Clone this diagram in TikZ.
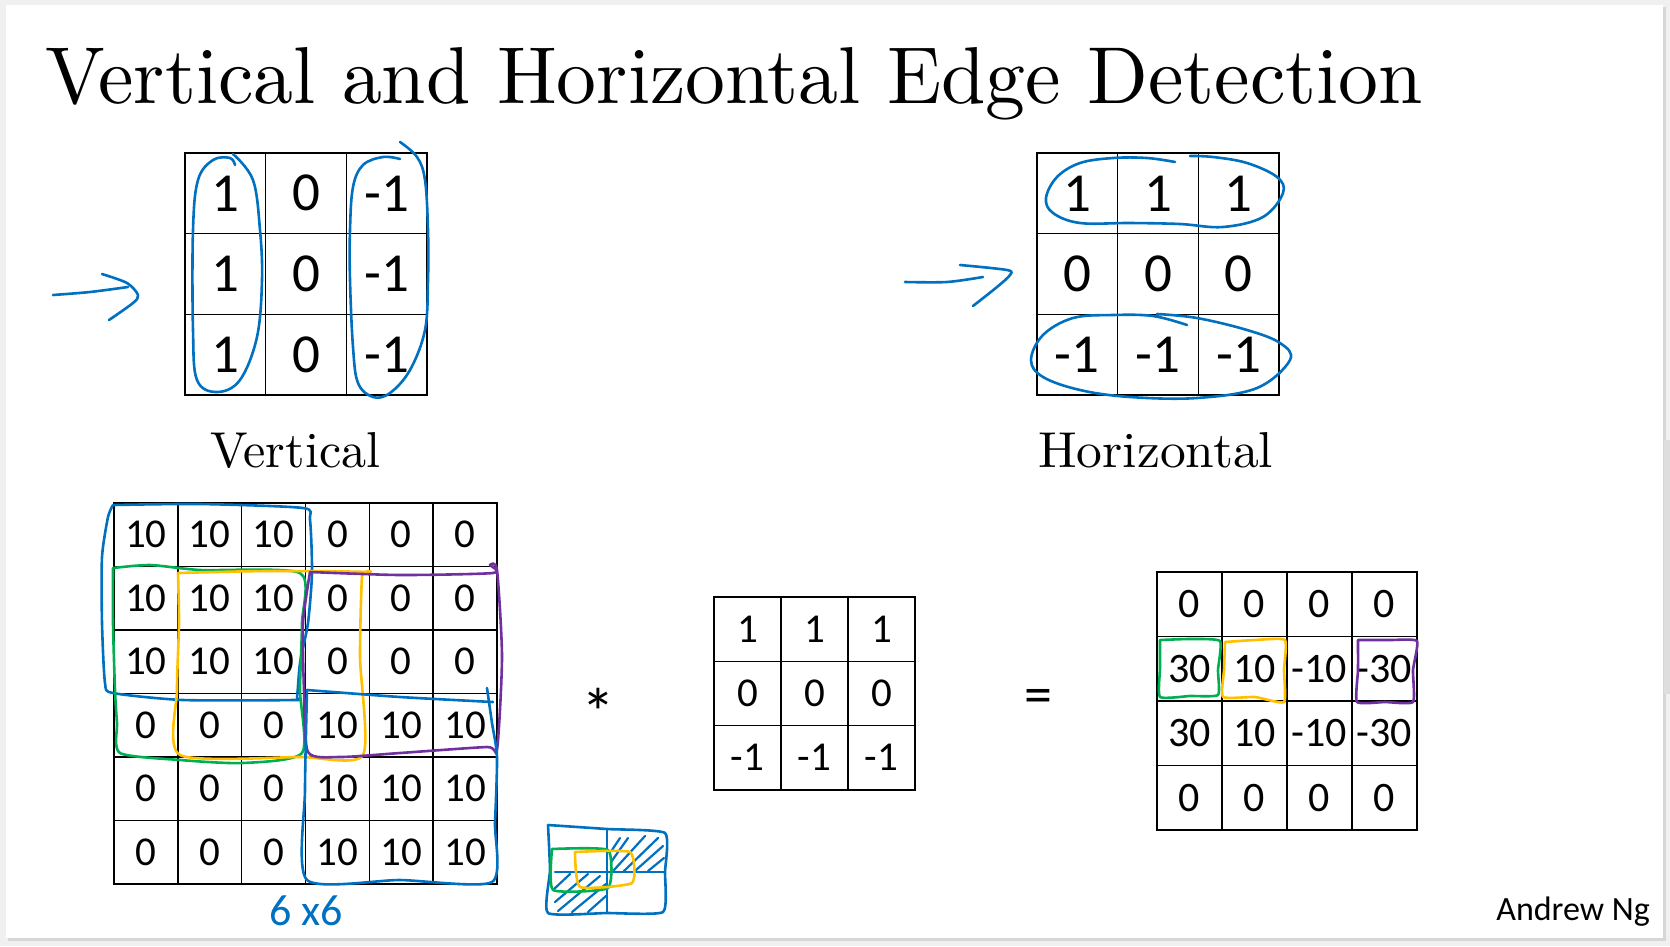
\documentclass[tikz,border=0pt]{standalone}
\usepackage{fontspec}
\newfontfamily\calib{Carlito}
\definecolor{inkblue}{HTML}{0070C0}
\definecolor{inkgreen}{HTML}{00B050}
\definecolor{inkyellow}{HTML}{FFC000}
\definecolor{inkpurple}{HTML}{7030A0}
\begin{document}
\begin{tikzpicture}[x=1pt,y=-1pt,
  cellbox/.style={draw=black, line width=1.6pt, inner sep=0pt, outer sep=0pt},
  bigcell/.style={cellbox, minimum width=80.67pt, minimum height=80.67pt, font=\calib\fontsize{55}{55}\selectfont},
  incell/.style={cellbox, minimum width=63.83pt, minimum height=63.5pt, font=\calib\fontsize{41}{41}\selectfont},
  kcell/.style={cellbox, minimum width=67pt, minimum height=64.3pt, font=\calib\fontsize{41}{41}\selectfont},
  ocell/.style={cellbox, minimum width=65pt, minimum height=64.5pt, font=\calib\fontsize{42}{42}\selectfont},
  hand/.style={line width=2.6pt, line cap=round, line join=round},
  hatch/.style={inkblue, line width=2.2pt, line cap=round},
  label/.style={inner sep=0pt},
]
% slide background
\fill[black!6] (0,0) rectangle (1670,946);
\fill[black!16] (8,7) rectangle (1666,941);
\fill[white] (6,5) rectangle (1663,938);
\fill[black!13] (1664,440) rectangle (1670,694);
\useasboundingbox (0,0) rectangle (1670,946);

% title
\node[anchor=base west, inner sep=0pt] (title) at (45,103)
  {\resizebox{1377pt}{56pt}{Vertical and Horizontal Edge Detection}};

% vertical filter
\foreach \row [count=\r] in {{1,0,-1},{1,0,-1},{1,0,-1}} {
  \foreach \v [count=\c] in \row {
    \node[bigcell] (v\r\c) at ({185+80.67*(\c-0.5)},{153+80.67*(\r-0.5)}) {\v};
  }
}
% horizontal filter
\foreach \row [count=\r] in {{1,1,1},{0,0,0},{-1,-1,-1}} {
  \foreach \v [count=\c] in \row {
    \node[bigcell] (h\r\c) at ({1037+80.67*(\c-0.5)},{153+80.67*(\r-0.5)}) {\v};
  }
}
\node[label, anchor=base west] (vlab) at (210,467) {\resizebox{170pt}{35pt}{Vertical}};
\node[label, anchor=base west] (hlab) at (1038,467) {\resizebox{235pt}{35pt}{Horizontal}};

% 6x6 input
\foreach \row [count=\r] in {{10,10,10,0,0,0},{10,10,10,0,0,0},{10,10,10,0,0,0},{0,0,0,10,10,10},{0,0,0,10,10,10},{0,0,0,10,10,10}} {
  \foreach \v [count=\c] in \row {
    \node[incell] (a\r\c) at ({114+63.83*(\c-0.5)},{503+63.5*(\r-0.5)}) {\v};
  }
}
% kernel
\foreach \row [count=\r] in {{1,1,1},{0,0,0},{-1,-1,-1}} {
  \foreach \v [count=\c] in \row {
    \node[kcell] (k\r\c) at ({714+67*(\c-0.5)},{597+64.3*(\r-0.5)}) {\v};
  }
}
% output
\foreach \row [count=\r] in {{0,0,0,0},{30,10,-10,-30},{30,10,-10,-30},{0,0,0,0}} {
  \foreach \v [count=\c] in \row {
    \node[ocell] (o\r\c) at ({1157+65*(\c-0.5)},{572+64.5*(\r-0.5)}) {\v};
  }
}
\node[inner sep=0pt, font=\calib\fontsize{68}{68}\selectfont] (star) at (598,712) {*};
\node[inner sep=0pt, font=\calib\fontsize{56}{56}\selectfont] (eq) at (1038,701) {=};
\node[anchor=base east, inner sep=0pt, font=\calib\fontsize{34}{34}\selectfont] (author) at (1650,920) {Andrew Ng};
\node[inner sep=0pt, text=inkblue, font=\calib\fontsize{44}{44}\selectfont] (size) at (306,911) {6 x6};

% ---- handwriting: vertical filter loops
\draw[hand, inkblue] plot[smooth, tension=0.6] coordinates {(233,154) (253,180) (260,230) (262,280) (257,337) (240,380) (217,392) (197,380) (193,330) (193,230) (198,180) (213,160) (230,158) (235,165)};
\draw[hand, inkblue] plot[smooth, tension=0.6] coordinates {(400,142) (417,157) (425,180) (428,230) (428,280) (425,330) (410,370) (390,393) (373,397) (358,383) (353,347) (350,280) (350,230) (353,187) (363,165) (383,157) (400,159)};
% arrows
\draw[hand, inkblue] plot[smooth, tension=0.5] coordinates {(53,295) (90,292) (128,287)};
\draw[hand, inkblue] plot[smooth, tension=0.5] coordinates {(102,274) (127,283) (138,295) (133,303) (109,320)};
\draw[hand, inkblue] plot[smooth, tension=0.5] coordinates {(905,282) (947,282) (983,277)};
\draw[hand, inkblue] plot[smooth, tension=0.5] coordinates {(960,265) (1007,270) (1010,275) (997,287) (973,306)};
% horizontal filter loops
\draw[hand, inkblue] plot[smooth, tension=0.6] coordinates {(1175,162) (1147,158) (1113,158) (1080,163) (1057,177) (1046,198) (1053,213) (1080,223) (1130,223) (1180,224) (1223,227) (1263,217) (1283,193) (1277,177) (1247,163) (1213,157) (1190,156)};
\draw[hand, inkblue] plot[smooth, tension=0.6] coordinates {(1187,325) (1153,316) (1113,315) (1073,318) (1043,335) (1031,360) (1043,377) (1080,390) (1130,397) (1197,398) (1257,388) (1290,360) (1280,343) (1247,330) (1197,318) (1157,314)};

% ---- 6x6 coloured boxes
\draw[hand, inkblue] plot[smooth, tension=0.4] coordinates {(113,505) (200,504) (303,508) (310,520) (312,573) (308,623) (300,663) (297,697) (293,700) (183,700) (113,693) (105,683) (102,623) (102,557) (108,517) (113,505)};
\draw[hand, inkgreen] plot[smooth, tension=0.4] coordinates {(113,568) (150,565) (200,570) (300,573) (302,623) (300,690) (302,753) (243,763) (180,760) (120,753) (117,723) (115,690) (113,623) (113,568)};
\draw[hand, inkyellow] plot[smooth, tension=0.4] coordinates {(178,573) (267,571) (367,572) (362,577) (360,657) (363,755) (300,757) (180,755) (177,690) (179,623) (178,573)};
\draw[hand, inkpurple] plot[smooth, tension=0.4] coordinates {(310,572) (400,575) (493,573) (490,565) (497,570) (502,657) (497,750) (487,747) (400,753) (340,757) (308,752) (304,690) (303,623) (310,572)};
\draw[hand, inkblue] plot[smooth, tension=0.4] coordinates {(307,690) (400,697) (493,702)};
\draw[hand, inkblue] plot[smooth, tension=0.4] coordinates {(487,688) (492,723) (497,757) (495,823) (492,882) (400,880) (307,880) (305,790) (307,690)};

% ---- small sketch
\draw[hand, inkblue] plot[smooth, tension=0.3] coordinates {(548,825) (607,829) (665,833) (665,872) (663,912) (607,913) (548,913) (550,870) (548,825)};
\draw[hand, inkblue] (607,830) -- (607,913);
\draw[hand, inkblue] (555,872) -- (665,872);
\draw[hatch] (611,862) -- (628,838);
\draw[hatch] (614,870) -- (645,836);
\draw[hatch] (624,871) -- (658,838);
\draw[hatch] (636,870) -- (663,846);
\draw[hatch] (648,871) -- (664,858);
\draw[hatch] (612,850) -- (620,838);
\draw[hatch] (553,890) -- (570,874);
\draw[hatch] (555,902) -- (588,874);
\draw[hatch] (558,911) -- (600,876);
\draw[hatch] (572,912) -- (606,884);
\draw[hatch] (588,912) -- (606,896);
\draw[hand, inkgreen] plot[smooth, tension=0.3] coordinates {(552,849) (608,850) (608,888) (553,890) (552,849)};
\draw[hand, inkyellow] plot[smooth, tension=0.3] coordinates {(575,852) (630,852) (632,883) (580,887) (575,852)};

% ---- output boxes
\draw[hand, inkgreen] plot[smooth, tension=0.3] coordinates {(1160,640) (1190,639) (1220,641) (1218,670) (1218,695) (1190,696) (1160,697) (1160,668) (1160,640)};
\draw[hand, inkyellow] plot[smooth, tension=0.3] coordinates {(1225,642) (1255,640) (1285,640) (1284,670) (1284,702) (1255,697) (1223,697) (1224,670) (1225,642)};
\draw[hand, inkpurple] plot[smooth, tension=0.3] coordinates {(1358,640) (1390,640) (1417,641) (1413,670) (1413,702) (1385,702) (1357,702) (1358,670) (1358,640)};
\end{tikzpicture}
\end{document}
